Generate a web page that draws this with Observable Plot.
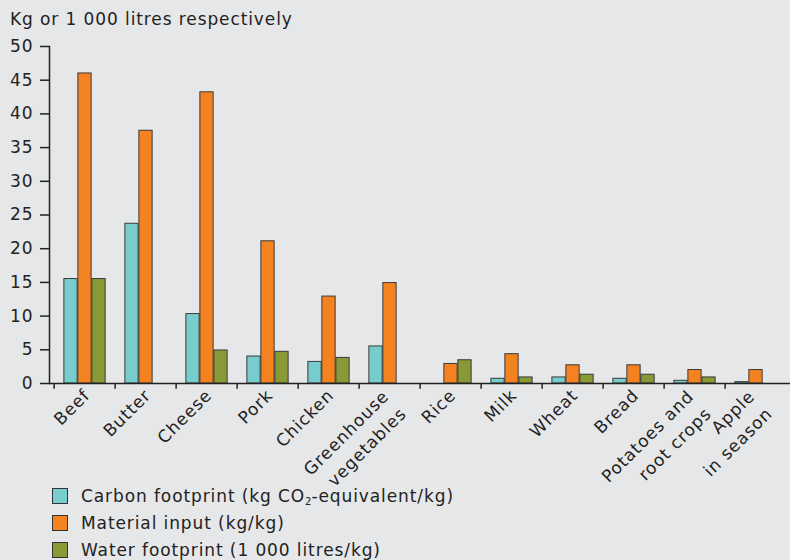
<!DOCTYPE html>
<html>
<head>
<meta charset="utf-8">
<script src="https://cdn.jsdelivr.net/npm/d3@7"></script>
<script src="https://cdn.jsdelivr.net/npm/@observablehq/plot@0.6"></script>
<style>
  html, body { margin: 0; padding: 0; background: #E6E7E9; }
  body { width: 790px; height: 560px; position: relative; overflow: hidden; font-family: "DejaVu Sans", Verdana, sans-serif; color: #222; }
  #title { position: absolute; left: 10px; top: 9px; font-size: 17px; letter-spacing: 0.9px; }
  #chart { position: absolute; left: 0; top: 0; }
  #chart svg text { letter-spacing: 0.9px; }
  #legend { position: absolute; left: 52px; top: 483px; font-size: 17px; letter-spacing: 0.9px; }
  .row { display: flex; align-items: center; height: 26.7px; }
  .sw { width: 14px; height: 14px; border: 1px solid #333; margin-right: 13px; box-sizing: content-box; }
  sub { font-size: 10px; vertical-align: -3px; line-height: 0; letter-spacing: 0; }
</style>
</head>
<body>
<div id="title">Kg or 1 000 litres respectively</div>
<div id="chart"></div>
<div id="legend"></div>
<script>
const categories = ["Beef", "Butter", "Cheese", "Pork", "Chicken", "Greenhouse\nvegetables", "Rice", "Milk", "Wheat", "Bread", "Potatoes and\nroot crops", "Apple\nin season"];
const carbon   = [15.5, 23.7, 10.3, 4.0, 3.2, 5.5, null, 0.7, 0.9, 0.7, 0.4, 0.2];
const material = [46.0, 37.5, 43.2, 21.1, 12.9, 14.9, 2.9, 4.35, 2.7, 2.7, 2.0, 2.0];
const water    = [15.5, null, 4.9, 4.7, 3.8, null, 3.45, 0.9, 1.3, 1.3, 0.9, null];
const seriesNames = ["Carbon footprint (kg CO<sub>2</sub>-equivalent/kg)", "Material input (kg/kg)", "Water footprint (1 000 litres/kg)"];
const seriesColors = ["#76CDCB", "#F58220", "#879A36"];
const yTicks = [0, 5, 10, 15, 20, 25, 30, 35, 40, 45, 50];

const seriesValues = [carbon, material, water];
const W = 790, H = 480, ML = 49, MR = 0, MT = 46, MB = 97;
const step = (W - ML - MR) / categories.length;
const barW = 14;
const groupLeft = (step - 3 * barW) / 2;

const barMarks = seriesValues.map((vals, i) => {
  const data = categories.map((c, j) => ({category: c, value: vals[j]})).filter(d => d.value != null && d.value > 0);
  return Plot.barY(data, {
    x: "category", y: "value",
    fill: seriesColors[i], stroke: "#3a3a3a", strokeWidth: 1,
    insetLeft: groupLeft + i * barW,
    insetRight: step - groupLeft - (i + 1) * barW,
    style: "filter: drop-shadow(1.5px 0px 0.5px rgba(0,0,0,0.25))"
  });
});

const singleLine = categories.filter(c => !c.includes("\n"));
const multiLine = categories.filter(c => c.includes("\n"));

const chart = Plot.plot({
  width: W, height: H,
  marginLeft: ML, marginRight: MR, marginTop: MT, marginBottom: MB,
  style: {background: "transparent", fontFamily: "\"DejaVu Sans\", Verdana, sans-serif", fontSize: "17px", color: "#222", overflow: "visible"},
  x: {domain: categories, padding: 0, axis: null},
  y: {domain: [0, 50], axis: null},
  marks: [
    ...barMarks,
    Plot.ruleY([0], {stroke: "#222", strokeWidth: 1.5}),
    Plot.frame({anchor: "left", stroke: "#222", strokeWidth: 1.5}),
    Plot.ruleX(categories, {x: d => d, y1: 0, y2: -0.85, dx: -step / 2, stroke: "#222", strokeWidth: 1.5}),
    Plot.axisY({ticks: yTicks, tickSize: 9, tickPadding: 7, fontSize: 17, stroke: "#222", strokeWidth: 1.5, label: null}),
    Plot.axisX({ticks: singleLine, tickSize: 0, tickRotate: -45, tickPadding: 9, dx: 2, textAnchor: "end", lineAnchor: "middle", fontSize: 17, label: null, tickFormat: d => d}),
    Plot.axisX({ticks: multiLine, tickSize: 0, tickRotate: -45, tickPadding: 17, dx: 3, textAnchor: "end", lineAnchor: "middle", lineHeight: 1.45, fontSize: 17, label: null, tickFormat: d => d})
  ]
});
document.getElementById("chart").appendChild(chart);

const legend = document.getElementById("legend");
seriesNames.forEach((name, i) => {
  const row = document.createElement("div");
  row.className = "row";
  row.innerHTML = `<div class="sw" style="background:${seriesColors[i]}"></div><span>${name}</span>`;
  legend.appendChild(row);
});
</script>
</body>
</html>
